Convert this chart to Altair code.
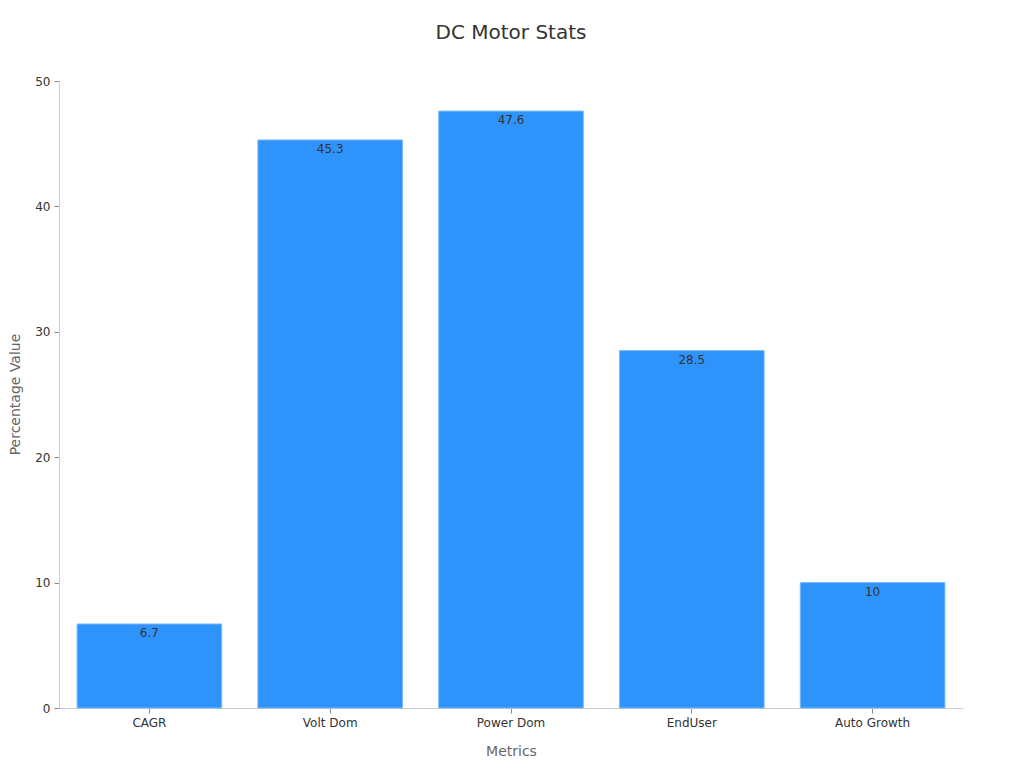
import altair as alt
import pandas as pd

categories = ["CAGR", "Volt Dom", "Power Dom", "EndUser", "Auto Growth"]
values = [6.7, 45.3, 47.6, 28.5, 10]
labels = ["6.7", "45.3", "47.6", "28.5", "10"]

df = pd.DataFrame({"Metric": categories, "Value": values, "Label": labels})

FONT = "DejaVu Sans"

x = alt.X("Metric:N", sort=categories,
          scale=alt.Scale(paddingInner=0.2, paddingOuter=0.1),
          axis=alt.Axis(title="Metrics", labelAngle=0, labelFontSize=12, labelColor="#333",
                        titleFontSize=14, titleColor="#666", titleFontWeight="normal",
                        titleY=43, titleBaseline="middle",
                        domainColor="#ccc", tickColor="#888", tickSize=5, labelPadding=4))
y = alt.Y("Value:Q", scale=alt.Scale(domain=[0, 50]),
          axis=alt.Axis(title="Percentage Value", values=[0, 10, 20, 30, 40, 50], grid=False,
                        labelFontSize=12, labelColor="#333", titleFontSize=14, titleColor="#666",
                        titleFontWeight="normal", titleX=-44, titleY=313, titleAngle=-90,
                        titleAlign="center", titleBaseline="middle",
                        domainColor="#ccc", tickColor="#888", tickSize=5, labelPadding=4))

bars = alt.Chart(df).mark_bar(color="#2e93fa", stroke="#7cbaf7", strokeWidth=1).encode(x=x, y=y)
text = alt.Chart(df).mark_text(baseline="middle", dy=9, fontSize=12, color="#333", font=FONT).encode(
    x=alt.X("Metric:N", sort=categories), y="Value:Q", text="Label:N")

chart = (bars + text).properties(
    width=904, height=627,
    title=alt.TitleParams("DC Motor Stats", fontSize=20, fontWeight="normal", color="#333",
                          font=FONT, offset=32),
    padding={"left": 51, "top": 73, "right": 50, "bottom": 50},
    autosize=alt.AutoSizeParams(type="none"),
).configure(font=FONT).configure_view(stroke=None)

chart.save("out.html", embed_options={"renderer": "svg", "actions": False})
